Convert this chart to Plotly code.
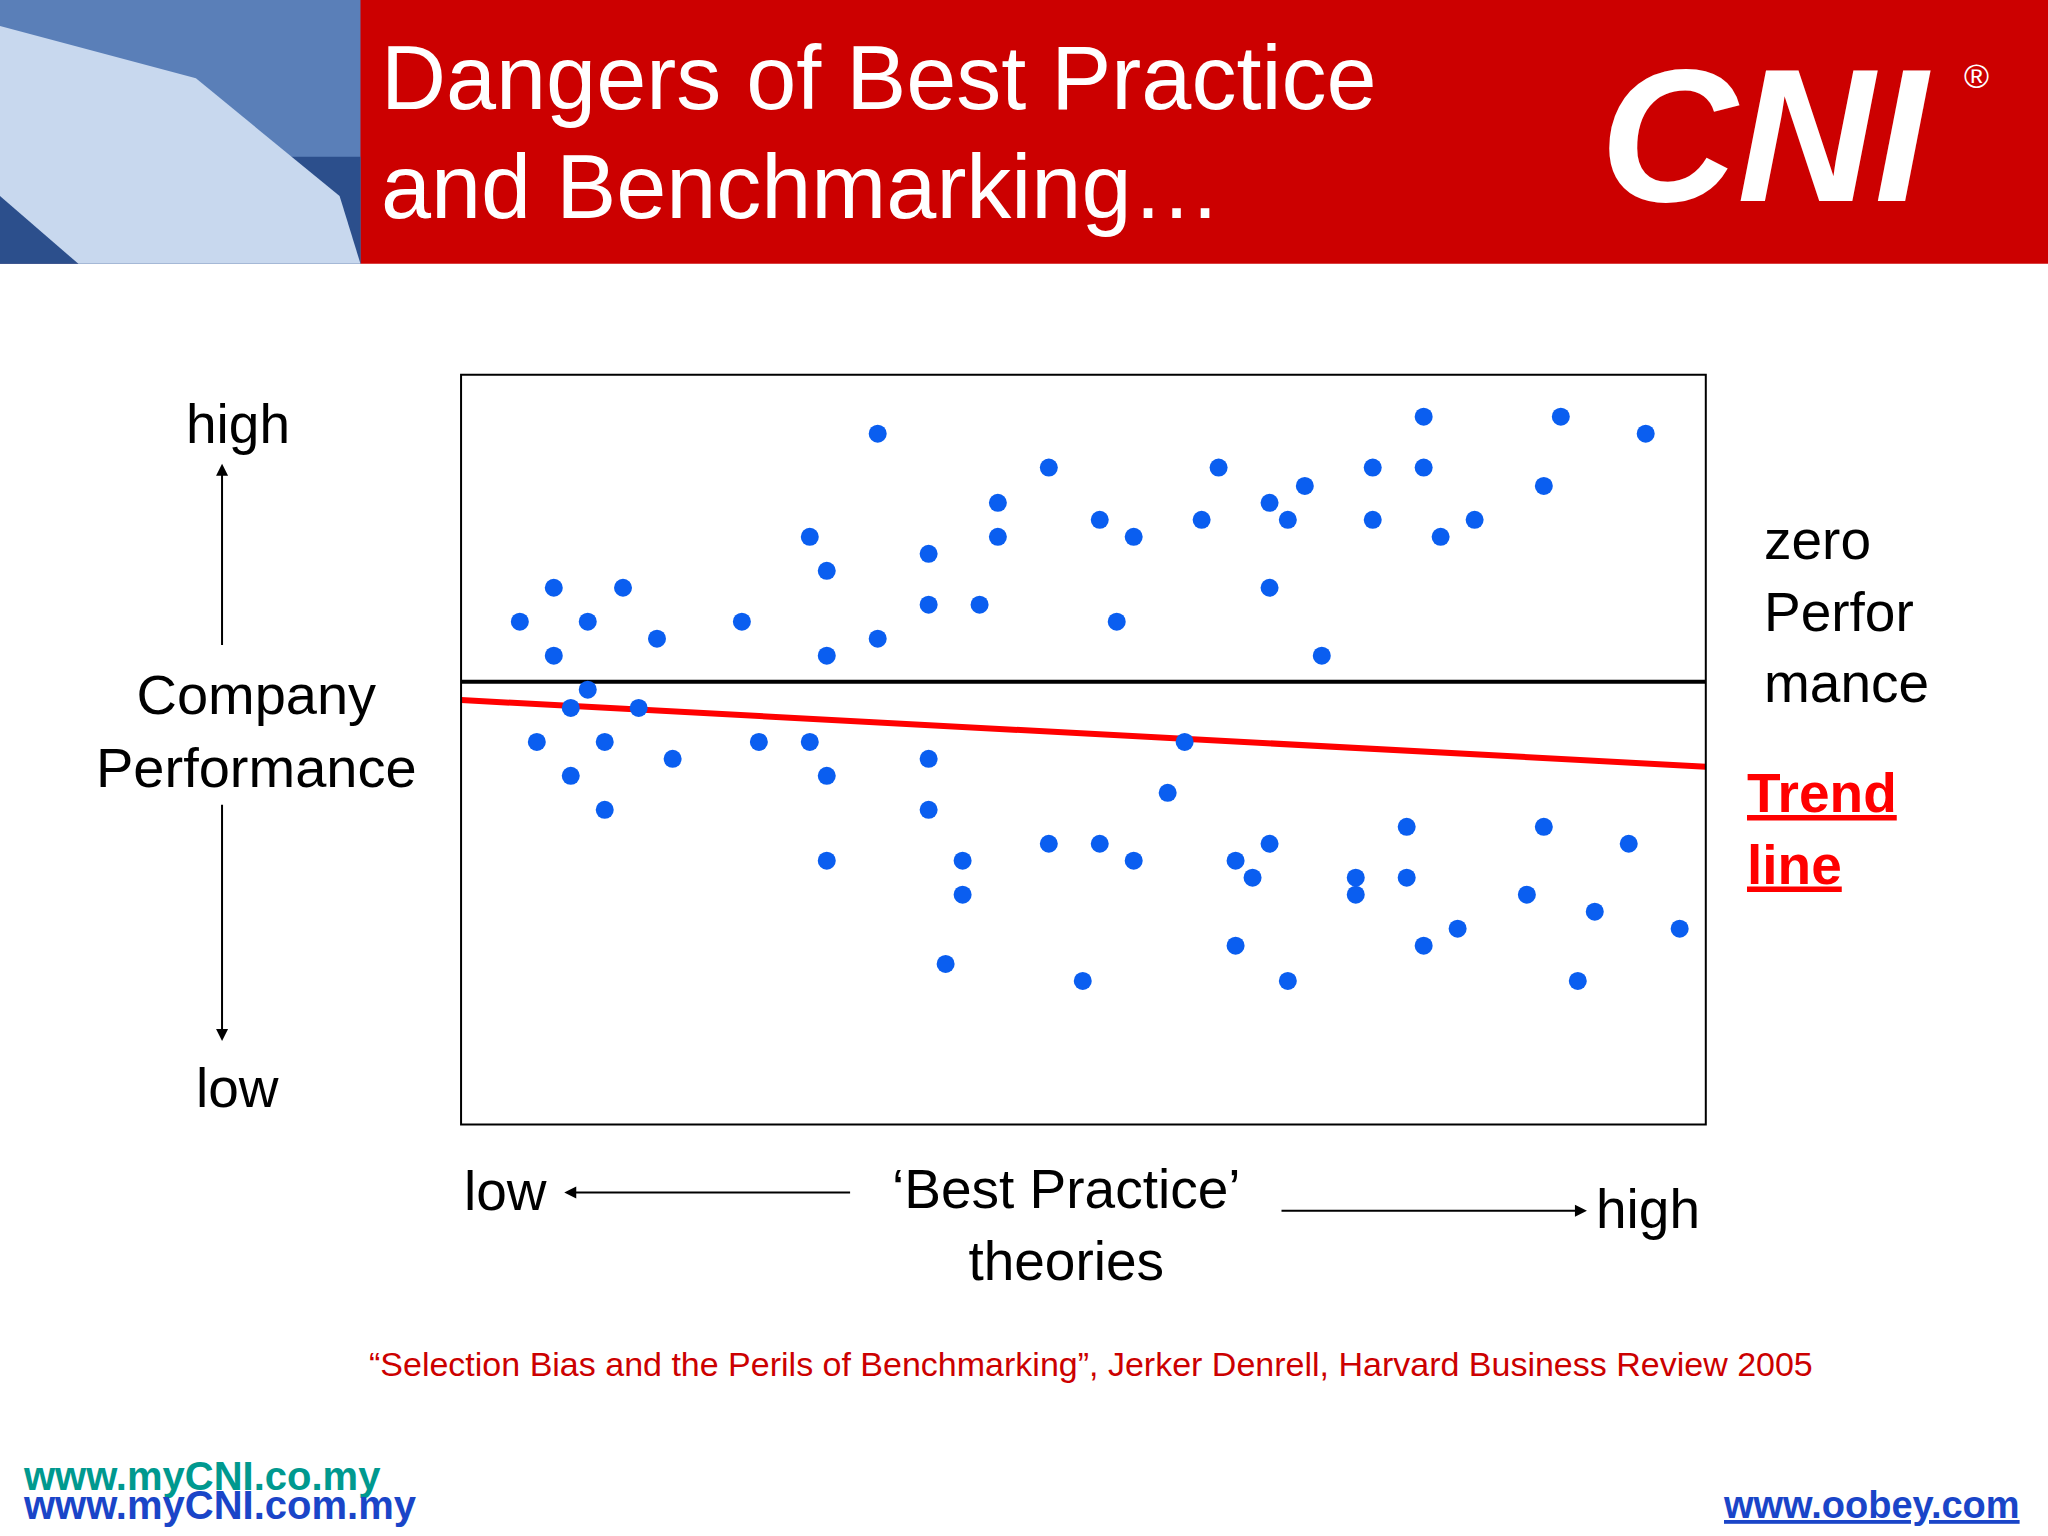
import plotly.graph_objects as go

# values (x: best practice, y: company performance), scale 0..953 x 0..574
above_x = [45, 71, 71, 97, 124, 150, 215, 267, 280, 280, 319, 319, 358, 358, 397, 411, 411, 450, 489, 502,
           515, 567, 580, 619, 633, 646, 619, 659, 698, 698, 737, 737, 750, 776, 829, 842, 907]
above_y = [385, 411, 359, 385, 411, 372, 385, 450, 424, 359, 529, 372, 437, 398, 398, 476, 450, 503, 463, 385,
           450, 463, 503, 476, 463, 489, 411, 359, 503, 463, 542, 503, 450, 463, 489, 542, 529]
below_x = [97, 84, 136, 58, 110, 162, 84, 110, 228, 267, 280, 280, 358, 358, 384, 384, 371, 450, 489, 515,
           476, 554, 541, 593, 606, 619, 593, 633, 685, 685, 724, 724, 737, 763, 816, 829, 868, 894, 855, 933]
below_y = [333, 319, 319, 293, 293, 280, 267, 241, 293, 293, 267, 202, 280, 241, 202, 176, 123, 215, 215, 202,
           110, 293, 254, 202, 189, 215, 137, 110, 189, 176, 228, 189, 137, 150, 176, 228, 163, 215, 110, 150]
zero_level = 339
trend_x = [0, 953]
trend_y = [325, 274]

W, H = 2048, 1536
def px(x): return x / 1568
def py(y): return 1 - y / 1176

FONT = "Liberation Sans, Arial"
BLUE = "#0a5ef0"

fig = go.Figure()
fig.add_trace(go.Scatter(x=[0, 953], y=[zero_level, zero_level], mode="lines",
                         line=dict(color="black", width=4), showlegend=False))
fig.add_trace(go.Scatter(x=trend_x, y=trend_y, mode="lines",
                         line=dict(color="#ff0000", width=6), showlegend=False))
fig.add_trace(go.Scatter(x=above_x + below_x, y=above_y + below_y, mode="markers",
                         marker=dict(color=BLUE, size=18), showlegend=False))

fig.update_layout(
    width=W, height=H, margin=dict(l=0, r=0, t=0, b=0),
    paper_bgcolor="white", plot_bgcolor="white",
    font=dict(family=FONT, color="black"),
    xaxis=dict(domain=[px(353), px(1306)], range=[0, 953], visible=False),
    yaxis=dict(domain=[py(861), py(287)], range=[0, 574], visible=False),
)

shapes = [
    dict(type="rect", xref="paper", yref="paper", x0=px(353), x1=px(1306), y0=py(861), y1=py(287),
         line=dict(color="black", width=2), layer="above"),
    dict(type="rect", xref="paper", yref="paper", x0=0, x1=1, y0=py(202), y1=1,
         fillcolor="#cc0000", line_width=0, layer="below"),
    dict(type="rect", xref="paper", yref="paper", x0=0, x1=px(276), y0=py(202), y1=1,
         fillcolor="#5a7fb8", line_width=0, layer="below"),
    dict(type="rect", xref="paper", yref="paper", x0=0, x1=px(276), y0=py(202), y1=py(120),
         fillcolor="#2c4f8c", line_width=0, layer="below"),
    dict(type="path", xref="paper", yref="paper", layer="below", line_width=0, fillcolor="#c8d8ee",
         path=f"M {px(0)} {py(20)} L {px(150)} {py(60)} L {px(260)} {py(150)} L {px(276)} {py(202)} L {px(60)} {py(202)} L {px(0)} {py(150)} Z"),
]
fig.update_layout(shapes=shapes)

def txt(x, y, s, size, color="black", xanchor="center", align="center", **kw):
    fig.add_annotation(xref="paper", yref="paper", x=px(x), y=py(y), text=s, showarrow=False,
                       font=dict(size=size, color=color, family=FONT), xanchor=xanchor,
                       yanchor="middle", align=align, **kw)

def arrow(x0, y0, x1, y1):
    fig.add_annotation(xref="paper", yref="paper", axref="pixel", ayref="pixel",
                       x=px(x1), y=py(y1), ax=(x0 - x1) * W / 1568, ay=(y0 - y1) * H / 1176,
                       text="", showarrow=True,
                       arrowhead=2, arrowsize=1.2, arrowwidth=2, arrowcolor="black")

txt(290, 60, "Dangers of Best Practice", 90, "white", xanchor="left")
txt(290, 143, "and Benchmarking…", 90, "white", xanchor="left")
txt(1352, 103, "<b><i>CNI</i></b>", 190, "white")
txt(1513, 58, "®", 34, "white")

txt(182, 325, "high", 55)
txt(196, 560, "Company<br>Performance", 56)
txt(182, 833, "low", 55)
arrow(170, 495, 170, 355)
arrow(170, 615, 170, 797)

txt(387, 912, "low", 55)
arrow(652, 913, 432, 913)
txt(816, 938, "‘Best Practice’<br>theories", 55)
arrow(980, 927, 1215, 927)
txt(1262, 926, "high", 55)

txt(1349, 468, "zero<br>Perfor<br>mance", 55, xanchor="left", align="left")
txt(1336, 635, "<b><u>Trend<br>line</u></b>", 55, "#ff0000", xanchor="left", align="left")

txt(835, 1044, "“Selection Bias and the Perils of Benchmarking”, Jerker Denrell, Harvard Business Review 2005",
    34, "#cc0000")
txt(16, 1130, "<b>www.myCNI.co.my</b>", 40, "#00998f", xanchor="left")
txt(16, 1152, "<b>www.myCNI.com.my</b>", 40, "#1a45c8", xanchor="left")
txt(1548, 1152, "<b><u>www.oobey.com</u></b>", 38, "#1a45c8", xanchor="right")

fig.write_html("out.html", config={"displayModeBar": False},
               post_script="document.body.style.margin='0';")
